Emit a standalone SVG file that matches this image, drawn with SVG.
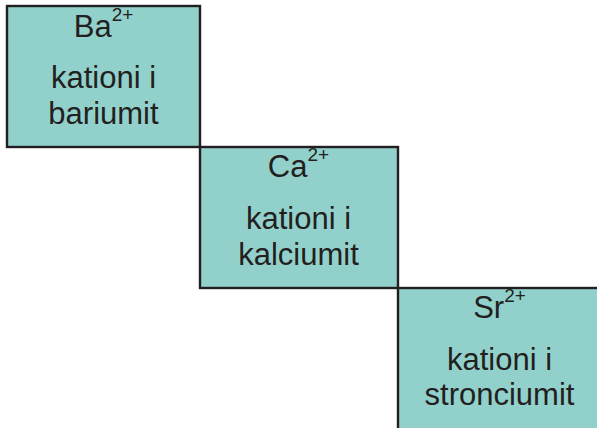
<svg xmlns="http://www.w3.org/2000/svg" width="597" height="428" viewBox="0 0 597 428">
<style>
.box{fill:#92d1cb;stroke:#231f20;stroke-width:2.4}
.t{font-family:"Liberation Sans",Arial,sans-serif;font-size:31px;fill:#231f20;text-anchor:middle}
.sup{font-size:19px}
</style>
<rect width="597" height="428" fill="#ffffff"/>
<g id="connectors"></g>
<g id="ba">
<rect class="box" x="7" y="6" width="193" height="141"/>
<text class="t" x="103.5" y="37">Ba<tspan class="sup" dy="-16">2+</tspan></text>
<text class="t" x="103.5" y="88">kationi i</text>
<text class="t" x="103.5" y="124">bariumit</text>
</g>
<g id="ca">
<rect class="box" x="200" y="147" width="198" height="141"/>
<text class="t" x="298.5" y="177">Ca<tspan class="sup" dy="-16">2+</tspan></text>
<text class="t" x="298.5" y="229">kationi i</text>
<text class="t" x="298.5" y="265">kalciumit</text>
</g>
<g id="sr">
<rect class="box" x="398" y="288" width="205" height="145"/>
<text class="t" x="499.5" y="318">Sr<tspan class="sup" dy="-16">2+</tspan></text>
<text class="t" x="499.5" y="370">kationi i</text>
<text class="t" x="499.5" y="405">stronciumit</text>
</g>
</svg>
